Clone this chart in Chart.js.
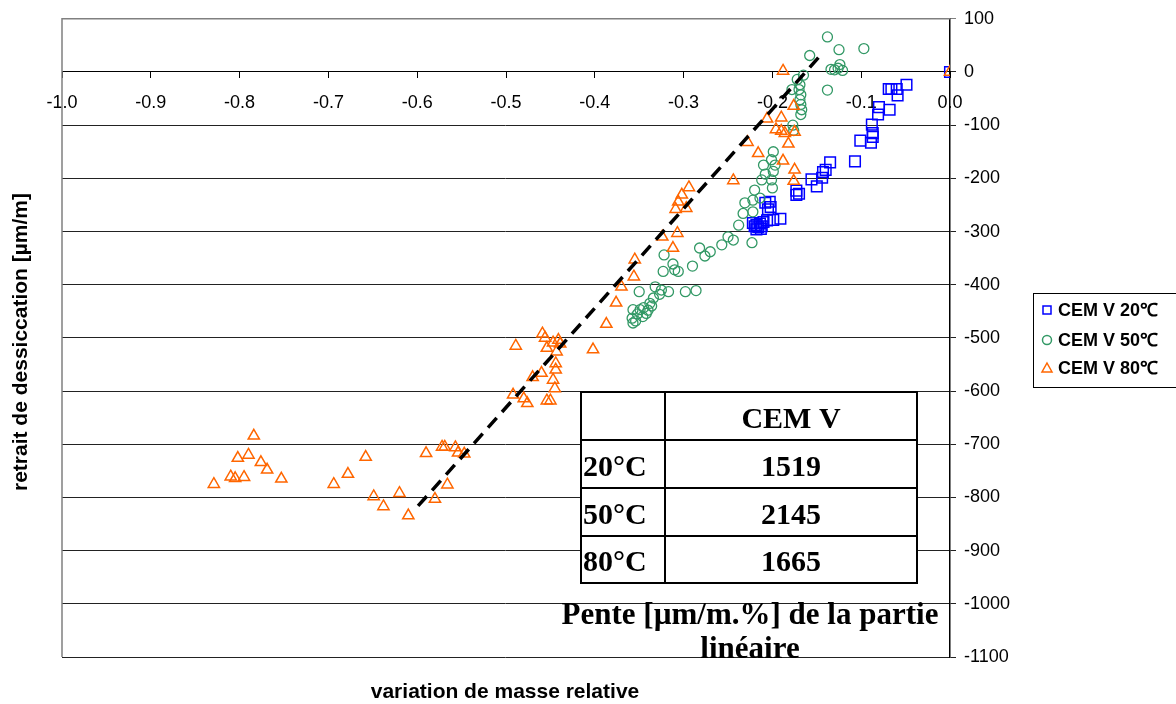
<!DOCTYPE html>
<html>
<head>
<meta charset="utf-8">
<script src="https://cdn.jsdelivr.net/npm/chart.js@4"></script>
<style>
  html, body { margin: 0; padding: 0; background: #fff; }
</style>
</head>
<body>
<canvas id="chart" width="1176" height="704"></canvas>
<script>
// series: [variation de masse, retrait]
var cem20 = [
  [0, 0], [-0.049, -24], [-0.060, -32], [-0.066, -32], [-0.069, -32], [-0.059, -44],
  [-0.068, -71], [-0.080, -66], [-0.081, -80], [-0.088, -99], [-0.087, -115], [-0.087, -122],
  [-0.101, -129], [-0.089, -133], [-0.107, -168], [-0.135, -170], [-0.140, -184], [-0.143, -188],
  [-0.144, -199], [-0.156, -202], [-0.150, -215], [-0.173, -223], [-0.173, -231], [-0.170, -229],
  [-0.203, -244], [-0.208, -246], [-0.202, -254], [-0.205, -258], [-0.191, -276], [-0.199, -278],
  [-0.206, -279], [-0.210, -282], [-0.214, -285], [-0.218, -288], [-0.216, -292], [-0.220, -290],
  [-0.213, -295], [-0.218, -296], [-0.212, -290], [-0.222, -284]
];
var cem50 = [
  [-0.138, 66], [-0.125, 42], [-0.097, 44], [-0.158, 31], [-0.124, 14], [-0.130, 4],
  [-0.121, 3], [-0.126, 7], [-0.134, 5], [-0.138, -34], [-0.165, -6], [-0.172, -14],
  [-0.169, -24], [-0.178, -33], [-0.170, -33], [-0.168, -43], [-0.169, -52], [-0.168, -61],
  [-0.167, -71], [-0.168, -80], [-0.177, -100], [-0.176, -110],
  [-0.199, -150], [-0.201, -165], [-0.197, -175], [-0.210, -175], [-0.199, -187], [-0.208, -192],
  [-0.212, -203], [-0.201, -203], [-0.200, -218], [-0.220, -222], [-0.214, -237], [-0.222, -241],
  [-0.231, -246], [-0.222, -263], [-0.233, -266], [-0.238, -288], [-0.223, -321], [-0.244, -316],
  [-0.250, -310], [-0.257, -325], [-0.270, -338], [-0.276, -346], [-0.282, -331], [-0.290, -365],
  [-0.306, -375], [-0.312, -361], [-0.310, -372], [-0.323, -375], [-0.322, -344],
  [-0.286, -411], [-0.298, -413], [-0.317, -413], [-0.325, -410], [-0.332, -404], [-0.350, -413],
  [-0.327, -418], [-0.334, -425], [-0.338, -435], [-0.342, -454], [-0.349, -447], [-0.357, -447],
  [-0.358, -463], [-0.357, -472], [-0.345, -443], [-0.352, -455], [-0.346, -460], [-0.354, -468],
  [-0.340, -448], [-0.336, -440]
];
var cem80 = [
  [0, 0], [-0.188, 2], [-0.176, -64], [-0.190, -86], [-0.206, -88], [-0.196, -108],
  [-0.190, -111], [-0.186, -115], [-0.175, -113], [-0.182, -135], [-0.228, -132], [-0.216, -153],
  [-0.188, -167], [-0.175, -184], [-0.176, -205], [-0.244, -204],
  [-0.294, -217], [-0.302, -231], [-0.306, -244], [-0.309, -258], [-0.297, -256], [-0.307, -303],
  [-0.324, -310], [-0.312, -331], [-0.355, -353], [-0.356, -385], [-0.370, -404], [-0.376, -434],
  [-0.387, -474], [-0.402, -522],
  [-0.459, -492], [-0.456, -500], [-0.447, -509], [-0.454, -519], [-0.441, -504], [-0.439, -511],
  [-0.443, -526], [-0.489, -515], [-0.444, -548], [-0.444, -560], [-0.447, -579], [-0.445, -595],
  [-0.460, -566], [-0.470, -574], [-0.492, -607], [-0.480, -614], [-0.476, -623], [-0.454, -618],
  [-0.450, -618],
  [-0.590, -717], [-0.572, -705], [-0.569, -705], [-0.557, -706], [-0.554, -716], [-0.547, -718],
  [-0.784, -684], [-0.802, -726], [-0.790, -720], [-0.776, -734], [-0.769, -748], [-0.753, -765],
  [-0.829, -775], [-0.810, -761], [-0.805, -764], [-0.795, -762], [-0.694, -775], [-0.678, -756],
  [-0.658, -724], [-0.649, -798], [-0.638, -817], [-0.620, -792], [-0.610, -834], [-0.580, -803],
  [-0.566, -776]
];
// linear part (dashed)
var pente = [[-0.599, -816], [-0.146, 31]];

var seriesNames = ['CEM V 20\u2103', 'CEM V 50\u2103', 'CEM V 80\u2103'];
var tableHead = 'CEM V';
var tableTemps = ['20\u00B0C', '50\u00B0C', '80\u00B0C'];
var tableSlopes = [1519, 2145, 1665];
var tableCaption = ['Pente [\u00B5m/m.%] de la partie', 'lin\u00E9aire'];

var blue = '#0000ff', green = '#339966', orange = '#ff6600';

function pts(arr) {
  return arr.map(function (p) { return { x: p[0], y: p[1] }; });
}

var decor = {
  id: 'decor',
  beforeDatasetsDraw: function (chart) {
    var ctx = chart.ctx, a = chart.chartArea;
    ctx.save();
    ctx.strokeStyle = '#808080';
    ctx.lineWidth = 1.5;
    ctx.beginPath();
    ctx.moveTo(a.left, a.bottom);
    ctx.lineTo(a.left, a.top);
    ctx.lineTo(a.right, a.top);
    ctx.stroke();
    ctx.restore();
  },
  afterDraw: function (chart) {
    var ctx = chart.ctx;
    ctx.save();

    // axis titles
    ctx.fillStyle = '#000';
    ctx.font = 'bold 21px "Liberation Sans", Arial, sans-serif';
    ctx.textAlign = 'center';
    ctx.textBaseline = 'middle';
    ctx.fillText('variation de masse relative', 505, 692);
    ctx.save();
    ctx.translate(21, 342);
    ctx.rotate(-Math.PI / 2);
    ctx.fillText('retrait de dessiccation [\u00B5m/m]', 0, 0);
    ctx.restore();

    // table
    var tx = 581, tx2 = 665, tr = 917;
    var rows = [392, 440, 488, 536, 583];
    ctx.fillStyle = '#fff';
    ctx.fillRect(tx, rows[0], tr - tx, rows[4] - rows[0]);
    ctx.strokeStyle = '#000';
    ctx.lineWidth = 2;
    ctx.strokeRect(tx, rows[0], tr - tx, rows[4] - rows[0]);
    ctx.beginPath();
    ctx.moveTo(tx2, rows[0]); ctx.lineTo(tx2, rows[4]);
    for (var i = 1; i < 4; i++) { ctx.moveTo(tx, rows[i]); ctx.lineTo(tr, rows[i]); }
    ctx.stroke();
    ctx.fillStyle = '#000';
    ctx.font = 'bold 30px "Liberation Serif", "Times New Roman", serif';
    ctx.textBaseline = 'middle';
    ctx.textAlign = 'center';
    ctx.fillText(tableHead, (tx2 + tr) / 2, (rows[0] + rows[1]) / 2 + 4);
    for (var j = 0; j < tableTemps.length; j++) {
      var cy = (rows[j + 1] + rows[j + 2]) / 2 + 4;
      ctx.textAlign = 'left';
      ctx.fillText(tableTemps[j], tx + 2, cy);
      ctx.textAlign = 'center';
      ctx.fillText(String(tableSlopes[j]), (tx2 + tr) / 2, cy);
    }
    ctx.font = 'bold 31px "Liberation Serif", "Times New Roman", serif';
    ctx.fillText(tableCaption[0], 750, 616);
    ctx.fillText(tableCaption[1], 750, 650);

    // legend
    ctx.lineWidth = 1;
    ctx.strokeStyle = '#000';
    ctx.strokeRect(1033.5, 293.5, 160, 94);
    ctx.font = 'bold 18px "Liberation Sans", Arial, sans-serif';
    ctx.textAlign = 'left';
    var ly = [310, 340, 368];
    var cols = [blue, green, orange];
    ctx.lineWidth = 1.5;
    for (var k = 0; k < 3; k++) {
      var mx = 1047, my = ly[k];
      ctx.strokeStyle = cols[k];
      ctx.beginPath();
      if (k === 0) ctx.rect(mx - 4, my - 4, 8, 8);
      else if (k === 1) ctx.arc(mx, my, 4.5, 0, Math.PI * 2);
      else { ctx.moveTo(mx, my - 5); ctx.lineTo(mx + 5, my + 4); ctx.lineTo(mx - 5, my + 4); ctx.closePath(); }
      ctx.stroke();
      ctx.fillStyle = '#000';
      ctx.fillText(seriesNames[k], 1058, my + 1);
    }
    ctx.restore();
  }
};

var ctx = document.getElementById('chart').getContext('2d');
new Chart(ctx, {
  type: 'scatter',
  data: {
    datasets: [
      { label: 'pente', data: pts(pente), showLine: true, borderColor: '#000', borderWidth: 3.5,
        borderDash: [13, 8], pointRadius: 0, order: 0 },
      { label: seriesNames[0], data: pts(cem20), pointStyle: 'rect', pointRadius: 7.5,
        borderColor: blue, backgroundColor: 'rgba(0,0,0,0)', pointBorderWidth: 1.5, order: 3 },
      { label: seriesNames[1], data: pts(cem50), pointStyle: 'circle', pointRadius: 5,
        borderColor: green, backgroundColor: 'rgba(0,0,0,0)', pointBorderWidth: 1.3, order: 2 },
      { label: seriesNames[2], data: pts(cem80), pointStyle: 'triangle', pointRadius: 6.5,
        borderColor: orange, backgroundColor: 'rgba(0,0,0,0)', pointBorderWidth: 1.5, order: 1 }
    ]
  },
  options: {
    responsive: false,
    animation: false,
    events: [],
    layout: { padding: { left: 62, top: 18, bottom: 47, right: 0 } },
    plugins: { legend: { display: false }, tooltip: { enabled: false } },
    scales: {
      x: {
        type: 'linear', min: -1, max: 0, position: { y: 0 },
        afterFit: function (s) { s.height = 0; },
        ticks: {
          stepSize: 0.1, autoSkip: false, maxRotation: 0, padding: 14, color: '#000',
          font: { family: '"Liberation Sans", Arial, sans-serif', size: 18 },
          callback: function (v) { return (Math.abs(v) < 1e-9 ? 0 : v).toFixed(1); }
        },
        grid: { drawOnChartArea: false, tickLength: 6, color: '#000' },
        border: { color: '#000', width: 1 }
      },
      y: {
        position: 'right', min: -1100, max: 100,
        afterFit: function (s) { s.width = 226; },
        ticks: {
          stepSize: 100, padding: 8, color: '#000',
          font: { family: '"Liberation Sans", Arial, sans-serif', size: 18 },
          callback: function (v) { return String(v); }
        },
        grid: {
          color: function (c) { return c.tick && c.tick.value === 100 ? '#808080' : '#222'; },
          lineWidth: 1, tickLength: 6
        },
        border: { color: '#000', width: 1.5 }
      }
    }
  },
  plugins: [decor]
});
</script>
</body>
</html>
